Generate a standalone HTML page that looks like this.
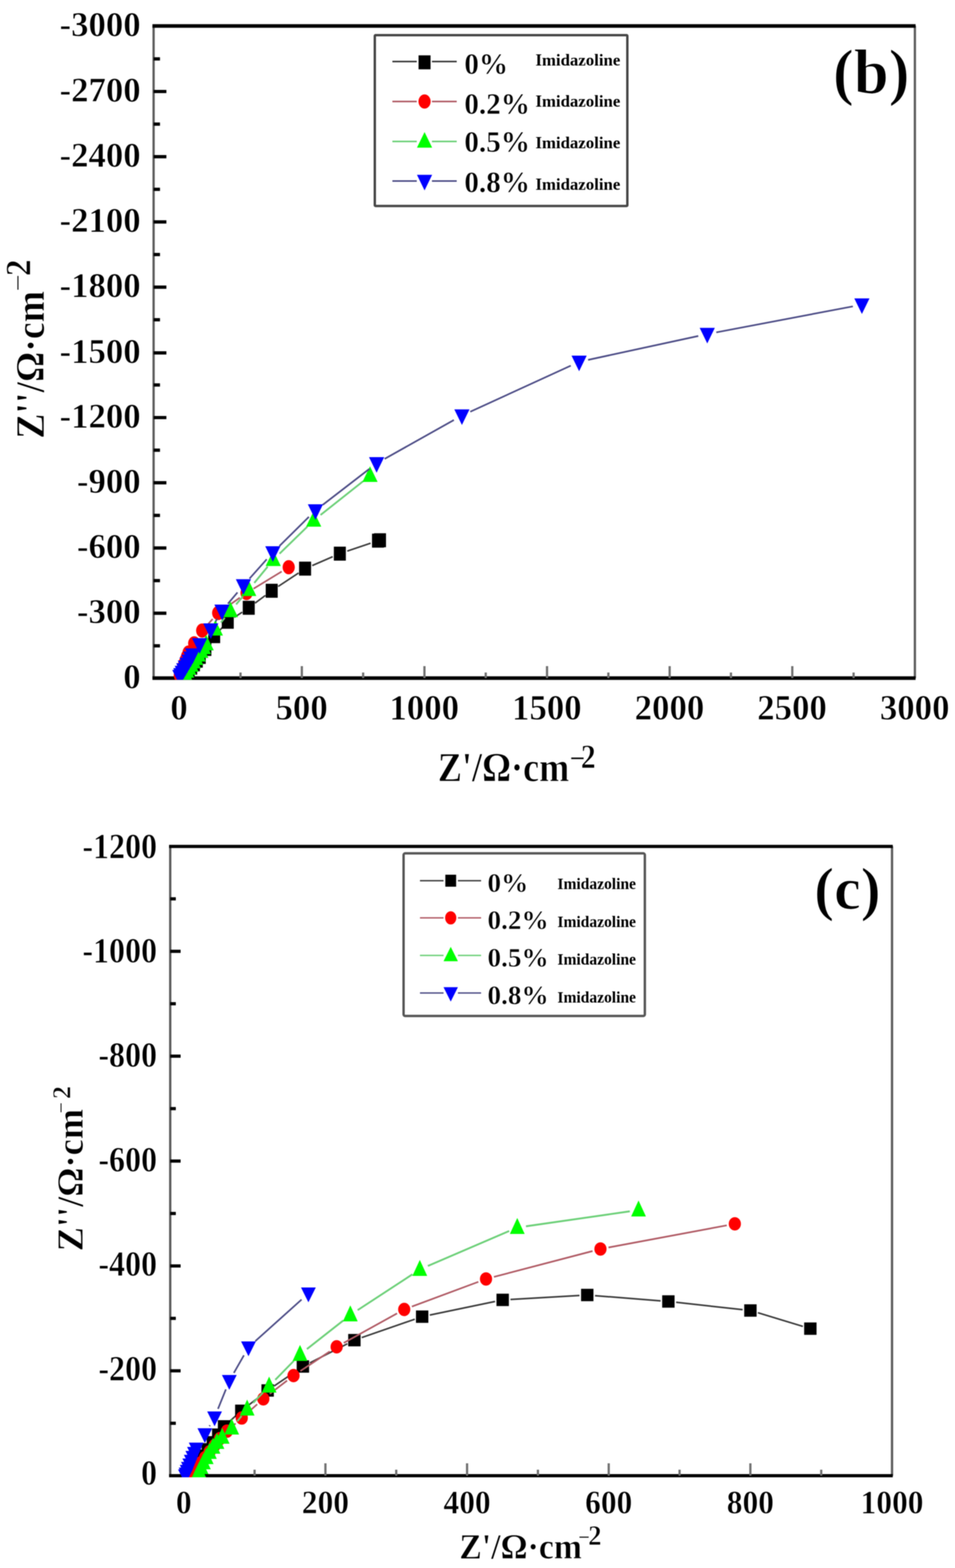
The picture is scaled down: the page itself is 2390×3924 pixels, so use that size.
<!DOCTYPE html>
<html lang="en">
<head>
<meta charset="utf-8">
<title>Nyquist plots (b) and (c)</title>
<style>
html, body { margin: 0; padding: 0; background: #ffffff; }
body { width: 2390px; height: 3924px; overflow: hidden; }
svg { display: block; font-family: "Liberation Serif", "DejaVu Serif", serif; filter: blur(1.3px); }
svg text { font-family: "Liberation Serif", "DejaVu Serif", serif; }
</style>
</head>
<body>
<svg xmlns="http://www.w3.org/2000/svg" width="2390" height="3924" viewBox="0 0 2390 3924">
<defs>
<clipPath id="clipb"><rect x="384.4" y="65.0" width="1905.1999999999998" height="1636.0"/></clipPath>
<clipPath id="clipc"><rect x="426.0" y="2118.2" width="1806.4" height="1578.8000000000002"/></clipPath>
</defs>
<rect x="0" y="0" width="2390" height="3924" fill="#ffffff"/>
<line x1="384.4" y1="65.0" x2="384.4" y2="1697.0" stroke="#5c5c5c" stroke-width="5.7" stroke-linecap="butt"/>
<line x1="2289.6" y1="65.0" x2="2289.6" y2="1697.0" stroke="#5c5c5c" stroke-width="5.7" stroke-linecap="butt"/>
<line x1="381.5" y1="65.0" x2="2291.4" y2="65.0" stroke="#000" stroke-width="8.8" stroke-linecap="butt"/>
<line x1="381.5" y1="1697.0" x2="2291.4" y2="1697.0" stroke="#000" stroke-width="9.2" stroke-linecap="butt"/>
<line x1="384.4" y1="1616.2" x2="400.4" y2="1616.2" stroke="#000" stroke-width="8.2" stroke-linecap="butt"/>
<line x1="384.4" y1="1534.6" x2="416.4" y2="1534.6" stroke="#000" stroke-width="8.2" stroke-linecap="butt"/>
<line x1="384.4" y1="1453.0" x2="400.4" y2="1453.0" stroke="#000" stroke-width="8.2" stroke-linecap="butt"/>
<line x1="384.4" y1="1371.4" x2="416.4" y2="1371.4" stroke="#000" stroke-width="8.2" stroke-linecap="butt"/>
<line x1="384.4" y1="1289.8" x2="400.4" y2="1289.8" stroke="#000" stroke-width="8.2" stroke-linecap="butt"/>
<line x1="384.4" y1="1208.2" x2="416.4" y2="1208.2" stroke="#000" stroke-width="8.2" stroke-linecap="butt"/>
<line x1="384.4" y1="1126.6" x2="400.4" y2="1126.6" stroke="#000" stroke-width="8.2" stroke-linecap="butt"/>
<line x1="384.4" y1="1045.0" x2="416.4" y2="1045.0" stroke="#000" stroke-width="8.2" stroke-linecap="butt"/>
<line x1="384.4" y1="963.4" x2="400.4" y2="963.4" stroke="#000" stroke-width="8.2" stroke-linecap="butt"/>
<line x1="384.4" y1="883.2" x2="416.4" y2="883.2" stroke="#000" stroke-width="8.2" stroke-linecap="butt"/>
<line x1="384.4" y1="800.2" x2="400.4" y2="800.2" stroke="#000" stroke-width="8.2" stroke-linecap="butt"/>
<line x1="384.4" y1="718.6" x2="416.4" y2="718.6" stroke="#000" stroke-width="8.2" stroke-linecap="butt"/>
<line x1="384.4" y1="637.0" x2="400.4" y2="637.0" stroke="#000" stroke-width="8.2" stroke-linecap="butt"/>
<line x1="384.4" y1="555.4" x2="416.4" y2="555.4" stroke="#000" stroke-width="8.2" stroke-linecap="butt"/>
<line x1="384.4" y1="473.8" x2="400.4" y2="473.8" stroke="#000" stroke-width="8.2" stroke-linecap="butt"/>
<line x1="384.4" y1="392.2" x2="416.4" y2="392.2" stroke="#000" stroke-width="8.2" stroke-linecap="butt"/>
<line x1="384.4" y1="310.6" x2="400.4" y2="310.6" stroke="#000" stroke-width="8.2" stroke-linecap="butt"/>
<line x1="384.4" y1="229.0" x2="416.4" y2="229.0" stroke="#000" stroke-width="8.2" stroke-linecap="butt"/>
<line x1="384.4" y1="147.4" x2="400.4" y2="147.4" stroke="#000" stroke-width="8.2" stroke-linecap="butt"/>
<line x1="448.5" y1="1697.0" x2="448.5" y2="1667.0" stroke="#707070" stroke-width="5.6" stroke-linecap="butt"/>
<line x1="601.9" y1="1697.0" x2="601.9" y2="1683.0" stroke="#707070" stroke-width="5.6" stroke-linecap="butt"/>
<line x1="755.4" y1="1697.0" x2="755.4" y2="1667.0" stroke="#707070" stroke-width="5.6" stroke-linecap="butt"/>
<line x1="908.8" y1="1697.0" x2="908.8" y2="1683.0" stroke="#707070" stroke-width="5.6" stroke-linecap="butt"/>
<line x1="1062.2" y1="1697.0" x2="1062.2" y2="1667.0" stroke="#707070" stroke-width="5.6" stroke-linecap="butt"/>
<line x1="1215.6" y1="1697.0" x2="1215.6" y2="1683.0" stroke="#707070" stroke-width="5.6" stroke-linecap="butt"/>
<line x1="1369.0" y1="1697.0" x2="1369.0" y2="1667.0" stroke="#707070" stroke-width="5.6" stroke-linecap="butt"/>
<line x1="1522.5" y1="1697.0" x2="1522.5" y2="1683.0" stroke="#707070" stroke-width="5.6" stroke-linecap="butt"/>
<line x1="1675.9" y1="1697.0" x2="1675.9" y2="1667.0" stroke="#707070" stroke-width="5.6" stroke-linecap="butt"/>
<line x1="1829.3" y1="1697.0" x2="1829.3" y2="1683.0" stroke="#707070" stroke-width="5.6" stroke-linecap="butt"/>
<line x1="1982.8" y1="1697.0" x2="1982.8" y2="1667.0" stroke="#707070" stroke-width="5.6" stroke-linecap="butt"/>
<line x1="2136.2" y1="1697.0" x2="2136.2" y2="1683.0" stroke="#707070" stroke-width="5.6" stroke-linecap="butt"/>
<text transform="translate(352.0 1721.5)" font-size="87" font-weight="bold" text-anchor="end" fill="#000"  stroke="#fff" stroke-width="1.22" stroke-linejoin="round">0</text>
<text transform="translate(352.0 1559.1)" font-size="87" font-weight="bold" text-anchor="end" fill="#000"  stroke="#fff" stroke-width="1.22" stroke-linejoin="round">-300</text>
<text transform="translate(352.0 1395.9)" font-size="87" font-weight="bold" text-anchor="end" fill="#000"  stroke="#fff" stroke-width="1.22" stroke-linejoin="round">-600</text>
<text transform="translate(352.0 1232.7)" font-size="87" font-weight="bold" text-anchor="end" fill="#000"  stroke="#fff" stroke-width="1.22" stroke-linejoin="round">-900</text>
<text transform="translate(352.0 1069.5)" font-size="87" font-weight="bold" text-anchor="end" fill="#000"  stroke="#fff" stroke-width="1.22" stroke-linejoin="round">-1200</text>
<text transform="translate(352.0 907.7)" font-size="87" font-weight="bold" text-anchor="end" fill="#000"  stroke="#fff" stroke-width="1.22" stroke-linejoin="round">-1500</text>
<text transform="translate(352.0 743.1)" font-size="87" font-weight="bold" text-anchor="end" fill="#000"  stroke="#fff" stroke-width="1.22" stroke-linejoin="round">-1800</text>
<text transform="translate(352.0 579.9)" font-size="87" font-weight="bold" text-anchor="end" fill="#000"  stroke="#fff" stroke-width="1.22" stroke-linejoin="round">-2100</text>
<text transform="translate(352.0 416.7)" font-size="87" font-weight="bold" text-anchor="end" fill="#000"  stroke="#fff" stroke-width="1.22" stroke-linejoin="round">-2400</text>
<text transform="translate(352.0 253.5)" font-size="87" font-weight="bold" text-anchor="end" fill="#000"  stroke="#fff" stroke-width="1.22" stroke-linejoin="round">-2700</text>
<text transform="translate(352.0 89.5)" font-size="87" font-weight="bold" text-anchor="end" fill="#000"  stroke="#fff" stroke-width="1.22" stroke-linejoin="round">-3000</text>
<text transform="translate(448.0 1800.3) scale(0.9850 1.0000)" font-size="88.5" font-weight="bold" text-anchor="middle" fill="#000"  stroke="#fff" stroke-width="1.24" stroke-linejoin="round">0</text>
<text transform="translate(754.9 1800.3) scale(0.9850 1.0000)" font-size="88.5" font-weight="bold" text-anchor="middle" fill="#000"  stroke="#fff" stroke-width="1.24" stroke-linejoin="round">500</text>
<text transform="translate(1061.7 1800.3) scale(0.9850 1.0000)" font-size="88.5" font-weight="bold" text-anchor="middle" fill="#000"  stroke="#fff" stroke-width="1.24" stroke-linejoin="round">1000</text>
<text transform="translate(1368.5 1800.3) scale(0.9850 1.0000)" font-size="88.5" font-weight="bold" text-anchor="middle" fill="#000"  stroke="#fff" stroke-width="1.24" stroke-linejoin="round">1500</text>
<text transform="translate(1675.4 1800.3) scale(0.9850 1.0000)" font-size="88.5" font-weight="bold" text-anchor="middle" fill="#000"  stroke="#fff" stroke-width="1.24" stroke-linejoin="round">2000</text>
<text transform="translate(1982.2 1800.3) scale(0.9850 1.0000)" font-size="88.5" font-weight="bold" text-anchor="middle" fill="#000"  stroke="#fff" stroke-width="1.24" stroke-linejoin="round">2500</text>
<text transform="translate(2289.1 1800.3) scale(0.9850 1.0000)" font-size="88.5" font-weight="bold" text-anchor="middle" fill="#000"  stroke="#fff" stroke-width="1.24" stroke-linejoin="round">3000</text>
<text transform="translate(1095.7 1954.5) scale(0.8790 1.0000)" font-size="103" font-weight="bold" text-anchor="start" fill="#000"  stroke="#fff" stroke-width="1.44" stroke-linejoin="round">Z'/Ω·cm<tspan font-size="79.0" font-weight="bold" dx="0.8" dy="-30.8">−</tspan><tspan font-size="85.0" dx="-12.9" dy="-1.7">2</tspan></text>
<text transform="translate(110.0 1098.0) rotate(-90) scale(0.9370 1.0000)" font-size="101" font-weight="bold" text-anchor="start" fill="#000"  stroke="#fff" stroke-width="1.41" stroke-linejoin="round">Z''/Ω·cm<tspan font-size="82.0" font-weight="normal" dx="-1.8" dy="-38.2">−</tspan><tspan font-size="89.0" dx="-5.0" dy="3.2">2</tspan></text>
<text transform="translate(2084.5 233.0) scale(0.9800 1.0000)" font-size="160" font-weight="bold" text-anchor="start" fill="#000"  stroke="#fff" stroke-width="2.24" stroke-linejoin="round">(b)</text>
<rect x="938.0" y="88.0" width="632.0" height="427.4" rx="2" fill="none" stroke="#464646" stroke-width="6"/>
<line x1="982.0" y1="154.0" x2="1043.0" y2="154.0" stroke="#3a3a3a" stroke-width="3.8" stroke-linecap="butt"/>
<line x1="1081.0" y1="154.0" x2="1143.0" y2="154.0" stroke="#3a3a3a" stroke-width="3.8" stroke-linecap="butt"/>
<rect x="1047.5" y="138.5" width="30" height="35" fill="#000000"/>
<text transform="translate(1162.0 185.0)" font-size="73" font-weight="bold" text-anchor="start" fill="#000"  stroke="#fff" stroke-width="1.02" stroke-linejoin="round">0%</text>
<text transform="translate(1340.0 164.0)" font-size="42" font-weight="bold" text-anchor="start" fill="#000" >Imidazoline</text>
<line x1="982.0" y1="254.0" x2="1043.0" y2="254.0" stroke="#b05a64" stroke-width="3.8" stroke-linecap="butt"/>
<line x1="1081.0" y1="254.0" x2="1143.0" y2="254.0" stroke="#b05a64" stroke-width="3.8" stroke-linecap="butt"/>
<ellipse cx="1062.5" cy="254.0" rx="15.25" ry="17.75" fill="#ff0000"/>
<text transform="translate(1162.0 285.0)" font-size="73" font-weight="bold" text-anchor="start" fill="#000"  stroke="#fff" stroke-width="1.02" stroke-linejoin="round">0.2%</text>
<text transform="translate(1340.0 266.5)" font-size="42" font-weight="bold" text-anchor="start" fill="#000" >Imidazoline</text>
<line x1="982.0" y1="354.0" x2="1043.0" y2="354.0" stroke="#6cd078" stroke-width="3.8" stroke-linecap="butt"/>
<line x1="1081.0" y1="354.0" x2="1143.0" y2="354.0" stroke="#6cd078" stroke-width="3.8" stroke-linecap="butt"/>
<polygon points="1062.5,330.6 1081.5,369.6 1043.5,369.6" fill="#00ff00"/>
<text transform="translate(1162.0 380.0)" font-size="73" font-weight="bold" text-anchor="start" fill="#000"  stroke="#fff" stroke-width="1.02" stroke-linejoin="round">0.5%</text>
<text transform="translate(1340.0 370.5)" font-size="42" font-weight="bold" text-anchor="start" fill="#000" >Imidazoline</text>
<line x1="982.0" y1="453.0" x2="1043.0" y2="453.0" stroke="#4c4c86" stroke-width="3.8" stroke-linecap="butt"/>
<line x1="1081.0" y1="453.0" x2="1143.0" y2="453.0" stroke="#4c4c86" stroke-width="3.8" stroke-linecap="butt"/>
<polygon points="1062.5,476.4 1081.5,437.4 1043.5,437.4" fill="#0000ff"/>
<text transform="translate(1162.0 481.0)" font-size="73" font-weight="bold" text-anchor="start" fill="#000"  stroke="#fff" stroke-width="1.02" stroke-linejoin="round">0.8%</text>
<text transform="translate(1340.0 474.5)" font-size="42" font-weight="bold" text-anchor="start" fill="#000" >Imidazoline</text>
<g clip-path="url(#clipb)">
<line x1="927.5" y1="1359.3" x2="869.0" y2="1379.2" stroke="#3a3a3a" stroke-width="4.0" stroke-linecap="butt"/>
<line x1="832.6" y1="1393.2" x2="781.4" y2="1415.3" stroke="#3a3a3a" stroke-width="4.0" stroke-linecap="butt"/>
<line x1="747.3" y1="1433.8" x2="696.2" y2="1467.6" stroke="#3a3a3a" stroke-width="4.0" stroke-linecap="butt"/>
<line x1="664.3" y1="1490.0" x2="638.2" y2="1509.4" stroke="#3a3a3a" stroke-width="4.0" stroke-linecap="butt"/>
<line x1="606.3" y1="1531.8" x2="586.2" y2="1545.2" stroke="#3a3a3a" stroke-width="4.0" stroke-linecap="butt"/>
<line x1="556.6" y1="1570.2" x2="549.4" y2="1577.8" stroke="#3a3a3a" stroke-width="4.0" stroke-linecap="butt"/>
<rect x="936.0" y="1334.5" width="30" height="35" fill="#000000"/>
<rect x="931.0" y="1335.5" width="30" height="35" fill="#000000"/>
<rect x="835.5" y="1368.0" width="30" height="35" fill="#000000"/>
<rect x="748.5" y="1405.5" width="30" height="35" fill="#000000"/>
<rect x="665.0" y="1460.9" width="30" height="35" fill="#000000"/>
<rect x="607.5" y="1503.5" width="30" height="35" fill="#000000"/>
<rect x="555.0" y="1538.5" width="30" height="35" fill="#000000"/>
<rect x="521.0" y="1574.5" width="30" height="35" fill="#000000"/>
<rect x="499.0" y="1606.5" width="30" height="35" fill="#000000"/>
<rect x="485.0" y="1626.5" width="30" height="35" fill="#000000"/>
<rect x="477.5" y="1635.9" width="30" height="35" fill="#000000"/>
<rect x="470.4" y="1645.0" width="30" height="35" fill="#000000"/>
<rect x="463.5" y="1653.6" width="30" height="35" fill="#000000"/>
<rect x="457.2" y="1661.7" width="30" height="35" fill="#000000"/>
<rect x="451.4" y="1668.9" width="30" height="35" fill="#000000"/>
<rect x="447.0" y="1674.5" width="30" height="35" fill="#000000"/>
<line x1="705.0" y1="1430.2" x2="634.5" y2="1473.3" stroke="#b05a64" stroke-width="4.2" stroke-linecap="butt"/>
<line x1="600.2" y1="1495.8" x2="562.8" y2="1522.2" stroke="#b05a64" stroke-width="4.2" stroke-linecap="butt"/>
<line x1="532.2" y1="1549.2" x2="519.8" y2="1562.8" stroke="#b05a64" stroke-width="4.2" stroke-linecap="butt"/>
<ellipse cx="722.5" cy="1419.5" rx="15.25" ry="17.75" fill="#ff0000"/>
<ellipse cx="617.0" cy="1484.0" rx="15.25" ry="17.75" fill="#ff0000"/>
<ellipse cx="546.0" cy="1534.0" rx="15.25" ry="17.75" fill="#ff0000"/>
<ellipse cx="506.0" cy="1578.0" rx="15.25" ry="17.75" fill="#ff0000"/>
<ellipse cx="486.0" cy="1610.0" rx="15.25" ry="17.75" fill="#ff0000"/>
<ellipse cx="472.0" cy="1633.0" rx="15.25" ry="17.75" fill="#ff0000"/>
<ellipse cx="468.3" cy="1642.6" rx="15.25" ry="17.75" fill="#ff0000"/>
<ellipse cx="464.7" cy="1651.9" rx="15.25" ry="17.75" fill="#ff0000"/>
<ellipse cx="461.2" cy="1660.9" rx="15.25" ry="17.75" fill="#ff0000"/>
<ellipse cx="458.0" cy="1669.4" rx="15.25" ry="17.75" fill="#ff0000"/>
<ellipse cx="454.9" cy="1677.3" rx="15.25" ry="17.75" fill="#ff0000"/>
<ellipse cx="452.1" cy="1684.5" rx="15.25" ry="17.75" fill="#ff0000"/>
<ellipse cx="450.0" cy="1690.0" rx="15.25" ry="17.75" fill="#ff0000"/>
<line x1="908.8" y1="1204.2" x2="802.2" y2="1288.8" stroke="#6cd078" stroke-width="4.6" stroke-linecap="butt"/>
<line x1="769.2" y1="1317.8" x2="699.6" y2="1385.7" stroke="#6cd078" stroke-width="4.6" stroke-linecap="butt"/>
<line x1="669.9" y1="1418.0" x2="636.4" y2="1458.8" stroke="#6cd078" stroke-width="4.6" stroke-linecap="butt"/>
<line x1="608.1" y1="1492.4" x2="590.9" y2="1512.4" stroke="#6cd078" stroke-width="4.6" stroke-linecap="butt"/>
<line x1="562.6" y1="1546.1" x2="552.9" y2="1557.9" stroke="#6cd078" stroke-width="4.6" stroke-linecap="butt"/>
<polygon points="926.0,1167.1 945.0,1206.1 907.0,1206.1" fill="#00ff00"/>
<polygon points="785.0,1279.1 804.0,1318.1 766.0,1318.1" fill="#00ff00"/>
<polygon points="683.8,1377.6 702.8,1416.6 664.8,1416.6" fill="#00ff00"/>
<polygon points="622.5,1452.4 641.5,1491.4 603.5,1491.4" fill="#00ff00"/>
<polygon points="576.5,1505.6 595.5,1544.6 557.5,1544.6" fill="#00ff00"/>
<polygon points="539.0,1551.6 558.0,1590.6 520.0,1590.6" fill="#00ff00"/>
<polygon points="516.0,1588.6 535.0,1627.6 497.0,1627.6" fill="#00ff00"/>
<polygon points="509.2,1598.1 528.2,1637.1 490.2,1637.1" fill="#00ff00"/>
<polygon points="502.6,1607.4 521.6,1646.4 483.6,1646.4" fill="#00ff00"/>
<polygon points="496.2,1616.5 515.2,1655.5 477.2,1655.5" fill="#00ff00"/>
<polygon points="489.9,1625.3 508.9,1664.3 470.9,1664.3" fill="#00ff00"/>
<polygon points="483.8,1633.8 502.8,1672.8 464.8,1672.8" fill="#00ff00"/>
<polygon points="478.0,1642.0 497.0,1681.0 459.0,1681.0" fill="#00ff00"/>
<polygon points="472.4,1649.7 491.4,1688.7 453.4,1688.7" fill="#00ff00"/>
<polygon points="467.3,1657.0 486.3,1696.0 448.3,1696.0" fill="#00ff00"/>
<polygon points="462.6,1663.6 481.6,1702.6 443.6,1702.6" fill="#00ff00"/>
<polygon points="459.0,1668.6 478.0,1707.6 440.0,1707.6" fill="#00ff00"/>
<line x1="2134.4" y1="766.7" x2="1792.6" y2="831.7" stroke="#4c4c86" stroke-width="4.2" stroke-linecap="butt"/>
<line x1="1747.5" y1="840.9" x2="1471.8" y2="900.6" stroke="#4c4c86" stroke-width="4.2" stroke-linecap="butt"/>
<line x1="1428.4" y1="915.1" x2="1176.9" y2="1030.4" stroke="#4c4c86" stroke-width="4.2" stroke-linecap="butt"/>
<line x1="1135.9" y1="1051.2" x2="962.6" y2="1148.3" stroke="#4c4c86" stroke-width="4.2" stroke-linecap="butt"/>
<line x1="924.3" y1="1173.5" x2="807.6" y2="1263.5" stroke="#4c4c86" stroke-width="4.2" stroke-linecap="butt"/>
<line x1="773.0" y1="1293.6" x2="699.2" y2="1366.4" stroke="#4c4c86" stroke-width="4.2" stroke-linecap="butt"/>
<line x1="667.5" y1="1399.7" x2="624.5" y2="1447.8" stroke="#4c4c86" stroke-width="4.2" stroke-linecap="butt"/>
<line x1="594.3" y1="1482.6" x2="570.4" y2="1510.9" stroke="#4c4c86" stroke-width="4.2" stroke-linecap="butt"/>
<line x1="543.7" y1="1548.3" x2="539.3" y2="1555.7" stroke="#4c4c86" stroke-width="4.2" stroke-linecap="butt"/>
<polygon points="2157.0,785.8 2176.0,746.8 2138.0,746.8" fill="#0000ff"/>
<polygon points="1770.0,859.4 1789.0,820.4 1751.0,820.4" fill="#0000ff"/>
<polygon points="1449.3,928.9 1468.3,889.9 1430.3,889.9" fill="#0000ff"/>
<polygon points="1156.0,1063.4 1175.0,1024.4 1137.0,1024.4" fill="#0000ff"/>
<polygon points="942.5,1182.9 961.5,1143.9 923.5,1143.9" fill="#0000ff"/>
<polygon points="789.4,1300.9 808.4,1261.9 770.4,1261.9" fill="#0000ff"/>
<polygon points="682.8,1405.9 701.8,1366.9 663.8,1366.9" fill="#0000ff"/>
<polygon points="609.2,1488.4 628.2,1449.4 590.2,1449.4" fill="#0000ff"/>
<polygon points="555.5,1551.9 574.5,1512.9 536.5,1512.9" fill="#0000ff"/>
<polygon points="527.5,1598.9 546.5,1559.9 508.5,1559.9" fill="#0000ff"/>
<polygon points="499.5,1635.9 518.5,1596.9 480.5,1596.9" fill="#0000ff"/>
<polygon points="482.0,1661.4 501.0,1622.4 463.0,1622.4" fill="#0000ff"/>
<polygon points="477.3,1669.4 496.3,1630.4 458.3,1630.4" fill="#0000ff"/>
<polygon points="472.7,1677.2 491.7,1638.2 453.7,1638.2" fill="#0000ff"/>
<polygon points="468.2,1684.7 487.2,1645.7 449.2,1645.7" fill="#0000ff"/>
<polygon points="463.9,1691.9 482.9,1652.9 444.9,1652.9" fill="#0000ff"/>
<polygon points="459.9,1698.8 478.9,1659.8 440.9,1659.8" fill="#0000ff"/>
<polygon points="456.1,1705.2 475.1,1666.2 437.1,1666.2" fill="#0000ff"/>
<polygon points="452.6,1710.9 471.6,1671.9 433.6,1671.9" fill="#0000ff"/>
<polygon points="450.0,1715.4 469.0,1676.4 431.0,1676.4" fill="#0000ff"/>
</g>
<line x1="426.0" y1="2118.2" x2="426.0" y2="3693.0" stroke="#5c5c5c" stroke-width="5.8" stroke-linecap="butt"/>
<line x1="2232.4" y1="2118.2" x2="2232.4" y2="3693.0" stroke="#5c5c5c" stroke-width="5.8" stroke-linecap="butt"/>
<line x1="423.1" y1="2118.2" x2="2234.3" y2="2118.2" stroke="#000" stroke-width="8.0" stroke-linecap="butt"/>
<line x1="423.1" y1="3693.0" x2="2234.3" y2="3693.0" stroke="#000" stroke-width="8.0" stroke-linecap="butt"/>
<line x1="426.0" y1="3561.8" x2="440.0" y2="3561.8" stroke="#000" stroke-width="8" stroke-linecap="butt"/>
<line x1="426.0" y1="3430.5" x2="452.0" y2="3430.5" stroke="#000" stroke-width="8" stroke-linecap="butt"/>
<line x1="426.0" y1="3299.3" x2="440.0" y2="3299.3" stroke="#000" stroke-width="8" stroke-linecap="butt"/>
<line x1="426.0" y1="3168.1" x2="452.0" y2="3168.1" stroke="#000" stroke-width="8" stroke-linecap="butt"/>
<line x1="426.0" y1="3036.8" x2="440.0" y2="3036.8" stroke="#000" stroke-width="8" stroke-linecap="butt"/>
<line x1="426.0" y1="2905.6" x2="452.0" y2="2905.6" stroke="#000" stroke-width="8" stroke-linecap="butt"/>
<line x1="426.0" y1="2774.4" x2="440.0" y2="2774.4" stroke="#000" stroke-width="8" stroke-linecap="butt"/>
<line x1="426.0" y1="2643.1" x2="452.0" y2="2643.1" stroke="#000" stroke-width="8" stroke-linecap="butt"/>
<line x1="426.0" y1="2511.9" x2="440.0" y2="2511.9" stroke="#000" stroke-width="8" stroke-linecap="butt"/>
<line x1="426.0" y1="2380.7" x2="452.0" y2="2380.7" stroke="#000" stroke-width="8" stroke-linecap="butt"/>
<line x1="426.0" y1="2249.4" x2="440.0" y2="2249.4" stroke="#000" stroke-width="8" stroke-linecap="butt"/>
<line x1="459.9" y1="3693.0" x2="459.9" y2="3662.0" stroke="#707070" stroke-width="5.6" stroke-linecap="butt"/>
<line x1="637.1" y1="3693.0" x2="637.1" y2="3678.0" stroke="#707070" stroke-width="5.6" stroke-linecap="butt"/>
<line x1="814.4" y1="3693.0" x2="814.4" y2="3662.0" stroke="#707070" stroke-width="5.6" stroke-linecap="butt"/>
<line x1="991.6" y1="3693.0" x2="991.6" y2="3678.0" stroke="#707070" stroke-width="5.6" stroke-linecap="butt"/>
<line x1="1168.9" y1="3693.0" x2="1168.9" y2="3662.0" stroke="#707070" stroke-width="5.6" stroke-linecap="butt"/>
<line x1="1346.2" y1="3693.0" x2="1346.2" y2="3678.0" stroke="#707070" stroke-width="5.6" stroke-linecap="butt"/>
<line x1="1523.4" y1="3693.0" x2="1523.4" y2="3662.0" stroke="#707070" stroke-width="5.6" stroke-linecap="butt"/>
<line x1="1700.7" y1="3693.0" x2="1700.7" y2="3678.0" stroke="#707070" stroke-width="5.6" stroke-linecap="butt"/>
<line x1="1877.9" y1="3693.0" x2="1877.9" y2="3662.0" stroke="#707070" stroke-width="5.6" stroke-linecap="butt"/>
<line x1="2055.2" y1="3693.0" x2="2055.2" y2="3678.0" stroke="#707070" stroke-width="5.6" stroke-linecap="butt"/>
<text transform="translate(393.0 3715.2) scale(0.9000 1.0000)" font-size="89" font-weight="bold" text-anchor="end" fill="#000"  stroke="#fff" stroke-width="1.25" stroke-linejoin="round">0</text>
<text transform="translate(393.0 3453.8) scale(0.9000 1.0000)" font-size="89" font-weight="bold" text-anchor="end" fill="#000"  stroke="#fff" stroke-width="1.25" stroke-linejoin="round">-200</text>
<text transform="translate(393.0 3192.3) scale(0.9000 1.0000)" font-size="89" font-weight="bold" text-anchor="end" fill="#000"  stroke="#fff" stroke-width="1.25" stroke-linejoin="round">-400</text>
<text transform="translate(393.0 2930.8) scale(0.9000 1.0000)" font-size="89" font-weight="bold" text-anchor="end" fill="#000"  stroke="#fff" stroke-width="1.25" stroke-linejoin="round">-600</text>
<text transform="translate(393.0 2669.4) scale(0.9000 1.0000)" font-size="89" font-weight="bold" text-anchor="end" fill="#000"  stroke="#fff" stroke-width="1.25" stroke-linejoin="round">-800</text>
<text transform="translate(393.0 2407.9) scale(0.9000 1.0000)" font-size="89" font-weight="bold" text-anchor="end" fill="#000"  stroke="#fff" stroke-width="1.25" stroke-linejoin="round">-1000</text>
<text transform="translate(393.0 2146.5) scale(0.9000 1.0000)" font-size="89" font-weight="bold" text-anchor="end" fill="#000"  stroke="#fff" stroke-width="1.25" stroke-linejoin="round">-1200</text>
<text transform="translate(459.9 3787.0) scale(0.9500 1.0000)" font-size="83" font-weight="bold" text-anchor="middle" fill="#000"  stroke="#fff" stroke-width="1.16" stroke-linejoin="round">0</text>
<text transform="translate(814.4 3787.0) scale(0.9500 1.0000)" font-size="83" font-weight="bold" text-anchor="middle" fill="#000"  stroke="#fff" stroke-width="1.16" stroke-linejoin="round">200</text>
<text transform="translate(1168.9 3787.0) scale(0.9500 1.0000)" font-size="83" font-weight="bold" text-anchor="middle" fill="#000"  stroke="#fff" stroke-width="1.16" stroke-linejoin="round">400</text>
<text transform="translate(1523.4 3787.0) scale(0.9500 1.0000)" font-size="83" font-weight="bold" text-anchor="middle" fill="#000"  stroke="#fff" stroke-width="1.16" stroke-linejoin="round">600</text>
<text transform="translate(1877.9 3787.0) scale(0.9500 1.0000)" font-size="83" font-weight="bold" text-anchor="middle" fill="#000"  stroke="#fff" stroke-width="1.16" stroke-linejoin="round">800</text>
<text transform="translate(2232.4 3787.0) scale(0.9500 1.0000)" font-size="83" font-weight="bold" text-anchor="middle" fill="#000"  stroke="#fff" stroke-width="1.16" stroke-linejoin="round">1000</text>
<text transform="translate(1149.5 3899.5) scale(0.9540 1.0000)" font-size="88.5" font-weight="bold" text-anchor="start" fill="#000"  stroke="#fff" stroke-width="1.24" stroke-linejoin="round">Z'/Ω·cm<tspan font-size="55.0" font-weight="bold" dx="-10.0" dy="-34.5">−</tspan><tspan font-size="70.0" dx="-4.7" dy="1.0">2</tspan></text>
<text transform="translate(207.1 3131.6) rotate(-90) scale(0.9800 1.0000)" font-size="93" font-weight="bold" text-anchor="start" fill="#000"  stroke="#fff" stroke-width="1.30" stroke-linejoin="round">Z''/Ω·cm<tspan font-size="52.0" font-weight="bold" dx="-11.8" dy="-37.5">−</tspan><tspan font-size="66.0" dx="7.6" dy="5.9">2</tspan></text>
<text transform="translate(2037.5 2275.0)" font-size="150" font-weight="bold" text-anchor="start" fill="#000"  stroke="#fff" stroke-width="2.10" stroke-linejoin="round">(c)</text>
<rect x="1010.0" y="2135.6" width="603.8" height="407.0" rx="4" fill="none" stroke="#555555" stroke-width="6"/>
<line x1="1051.0" y1="2204.0" x2="1110.0" y2="2204.0" stroke="#3a3a3a" stroke-width="3.6" stroke-linecap="butt"/>
<line x1="1146.0" y1="2204.0" x2="1204.0" y2="2204.0" stroke="#3a3a3a" stroke-width="3.6" stroke-linecap="butt"/>
<rect x="1114.5" y="2189.0" width="27" height="30" fill="#000000"/>
<text transform="translate(1220.0 2232.0)" font-size="68" font-weight="bold" text-anchor="start" fill="#000"  stroke="#fff" stroke-width="0.95" stroke-linejoin="round">0%</text>
<text transform="translate(1395.0 2224.5) scale(0.9850 1.0000)" font-size="39.5" font-weight="bold" text-anchor="start" fill="#000" >Imidazoline</text>
<line x1="1051.0" y1="2297.0" x2="1110.0" y2="2297.0" stroke="#b05a64" stroke-width="3.6" stroke-linecap="butt"/>
<line x1="1146.0" y1="2297.0" x2="1204.0" y2="2297.0" stroke="#b05a64" stroke-width="3.6" stroke-linecap="butt"/>
<ellipse cx="1128.0" cy="2297.0" rx="14.0" ry="16.5" fill="#ff0000"/>
<text transform="translate(1220.0 2325.0)" font-size="68" font-weight="bold" text-anchor="start" fill="#000"  stroke="#fff" stroke-width="0.95" stroke-linejoin="round">0.2%</text>
<text transform="translate(1395.0 2319.5) scale(0.9850 1.0000)" font-size="39.5" font-weight="bold" text-anchor="start" fill="#000" >Imidazoline</text>
<line x1="1051.0" y1="2391.0" x2="1110.0" y2="2391.0" stroke="#6cd078" stroke-width="3.6" stroke-linecap="butt"/>
<line x1="1146.0" y1="2391.0" x2="1204.0" y2="2391.0" stroke="#6cd078" stroke-width="3.6" stroke-linecap="butt"/>
<polygon points="1128.0,2369.4 1146.0,2405.4 1110.0,2405.4" fill="#00ff00"/>
<text transform="translate(1220.0 2419.0)" font-size="68" font-weight="bold" text-anchor="start" fill="#000"  stroke="#fff" stroke-width="0.95" stroke-linejoin="round">0.5%</text>
<text transform="translate(1395.0 2414.0) scale(0.9850 1.0000)" font-size="39.5" font-weight="bold" text-anchor="start" fill="#000" >Imidazoline</text>
<line x1="1051.0" y1="2485.0" x2="1110.0" y2="2485.0" stroke="#4c4c86" stroke-width="3.6" stroke-linecap="butt"/>
<line x1="1146.0" y1="2485.0" x2="1204.0" y2="2485.0" stroke="#4c4c86" stroke-width="3.6" stroke-linecap="butt"/>
<polygon points="1128.0,2506.6 1146.0,2470.6 1110.0,2470.6" fill="#0000ff"/>
<text transform="translate(1220.0 2513.0)" font-size="68" font-weight="bold" text-anchor="start" fill="#000"  stroke="#fff" stroke-width="0.95" stroke-linejoin="round">0.8%</text>
<text transform="translate(1395.0 2509.0) scale(0.9850 1.0000)" font-size="39.5" font-weight="bold" text-anchor="start" fill="#000" >Imidazoline</text>
<g clip-path="url(#clipc)">
<line x1="2009.3" y1="3319.4" x2="1896.7" y2="3285.2" stroke="#3a3a3a" stroke-width="4.0" stroke-linecap="butt"/>
<line x1="1858.6" y1="3277.5" x2="1692.1" y2="3259.1" stroke="#3a3a3a" stroke-width="4.0" stroke-linecap="butt"/>
<line x1="1653.3" y1="3255.4" x2="1489.1" y2="3242.4" stroke="#3a3a3a" stroke-width="4.0" stroke-linecap="butt"/>
<line x1="1450.2" y1="3241.9" x2="1277.5" y2="3251.9" stroke="#3a3a3a" stroke-width="4.0" stroke-linecap="butt"/>
<line x1="1238.9" y1="3257.0" x2="1075.6" y2="3291.0" stroke="#3a3a3a" stroke-width="4.0" stroke-linecap="butt"/>
<line x1="1038.1" y1="3301.4" x2="905.3" y2="3347.4" stroke="#3a3a3a" stroke-width="4.0" stroke-linecap="butt"/>
<line x1="869.5" y1="3362.7" x2="775.4" y2="3410.8" stroke="#3a3a3a" stroke-width="4.0" stroke-linecap="butt"/>
<line x1="741.9" y1="3430.7" x2="685.9" y2="3468.7" stroke="#3a3a3a" stroke-width="4.0" stroke-linecap="butt"/>
<line x1="654.4" y1="3491.6" x2="619.3" y2="3518.7" stroke="#3a3a3a" stroke-width="4.0" stroke-linecap="butt"/>
<line x1="589.4" y1="3543.7" x2="575.2" y2="3556.5" stroke="#3a3a3a" stroke-width="4.0" stroke-linecap="butt"/>
<rect x="2012.5" y="3309.5" width="31" height="31" fill="#000000"/>
<rect x="1862.5" y="3264.1" width="31" height="31" fill="#000000"/>
<rect x="1657.2" y="3241.5" width="31" height="31" fill="#000000"/>
<rect x="1454.2" y="3225.3" width="31" height="31" fill="#000000"/>
<rect x="1242.5" y="3237.5" width="31" height="31" fill="#000000"/>
<rect x="1041.0" y="3279.5" width="31" height="31" fill="#000000"/>
<rect x="871.4" y="3338.3" width="31" height="31" fill="#000000"/>
<rect x="742.5" y="3404.2" width="31" height="31" fill="#000000"/>
<rect x="654.3" y="3464.2" width="31" height="31" fill="#000000"/>
<rect x="588.4" y="3515.1" width="31" height="31" fill="#000000"/>
<rect x="545.2" y="3554.1" width="31" height="31" fill="#000000"/>
<rect x="530.7" y="3574.8" width="31" height="31" fill="#000000"/>
<rect x="517.2" y="3594.0" width="31" height="31" fill="#000000"/>
<rect x="504.8" y="3611.6" width="31" height="31" fill="#000000"/>
<rect x="493.6" y="3627.5" width="31" height="31" fill="#000000"/>
<rect x="483.6" y="3641.6" width="31" height="31" fill="#000000"/>
<rect x="475.1" y="3653.7" width="31" height="31" fill="#000000"/>
<rect x="468.1" y="3663.6" width="31" height="31" fill="#000000"/>
<rect x="463.0" y="3670.9" width="31" height="31" fill="#000000"/>
<rect x="460.5" y="3674.5" width="31" height="31" fill="#000000"/>
<line x1="1818.9" y1="3066.5" x2="1522.8" y2="3121.9" stroke="#b05a64" stroke-width="4.2" stroke-linecap="butt"/>
<line x1="1482.9" y1="3130.9" x2="1236.1" y2="3195.5" stroke="#b05a64" stroke-width="4.2" stroke-linecap="butt"/>
<line x1="1197.1" y1="3207.9" x2="1030.8" y2="3269.8" stroke="#b05a64" stroke-width="4.2" stroke-linecap="butt"/>
<line x1="993.7" y1="3286.9" x2="860.4" y2="3360.6" stroke="#b05a64" stroke-width="4.2" stroke-linecap="butt"/>
<line x1="825.4" y1="3381.9" x2="751.7" y2="3431.1" stroke="#b05a64" stroke-width="4.2" stroke-linecap="butt"/>
<line x1="718.4" y1="3455.0" x2="675.2" y2="3488.2" stroke="#b05a64" stroke-width="4.2" stroke-linecap="butt"/>
<line x1="643.7" y1="3514.3" x2="620.3" y2="3535.0" stroke="#b05a64" stroke-width="4.2" stroke-linecap="butt"/>
<line x1="589.7" y1="3562.2" x2="583.2" y2="3568.0" stroke="#b05a64" stroke-width="4.2" stroke-linecap="butt"/>
<ellipse cx="1839.0" cy="3062.7" rx="15.25" ry="16.75" fill="#ff0000"/>
<ellipse cx="1502.7" cy="3125.7" rx="15.25" ry="16.75" fill="#ff0000"/>
<ellipse cx="1216.3" cy="3200.7" rx="15.25" ry="16.75" fill="#ff0000"/>
<ellipse cx="1011.6" cy="3277.0" rx="15.25" ry="16.75" fill="#ff0000"/>
<ellipse cx="842.5" cy="3370.5" rx="15.25" ry="16.75" fill="#ff0000"/>
<ellipse cx="734.6" cy="3442.5" rx="15.25" ry="16.75" fill="#ff0000"/>
<ellipse cx="659.0" cy="3500.7" rx="15.25" ry="16.75" fill="#ff0000"/>
<ellipse cx="605.0" cy="3548.6" rx="15.25" ry="16.75" fill="#ff0000"/>
<ellipse cx="567.9" cy="3581.6" rx="15.25" ry="16.75" fill="#ff0000"/>
<ellipse cx="550.4" cy="3600.2" rx="15.25" ry="16.75" fill="#ff0000"/>
<ellipse cx="536.9" cy="3617.5" rx="15.25" ry="16.75" fill="#ff0000"/>
<ellipse cx="524.4" cy="3633.3" rx="15.25" ry="16.75" fill="#ff0000"/>
<ellipse cx="513.2" cy="3647.7" rx="15.25" ry="16.75" fill="#ff0000"/>
<ellipse cx="503.2" cy="3660.4" rx="15.25" ry="16.75" fill="#ff0000"/>
<ellipse cx="494.7" cy="3671.3" rx="15.25" ry="16.75" fill="#ff0000"/>
<ellipse cx="487.7" cy="3680.2" rx="15.25" ry="16.75" fill="#ff0000"/>
<ellipse cx="482.5" cy="3686.8" rx="15.25" ry="16.75" fill="#ff0000"/>
<ellipse cx="480.0" cy="3690.0" rx="15.25" ry="16.75" fill="#ff0000"/>
<line x1="754.7" y1="3252.2" x2="638.9" y2="3356.3" stroke="#4c4c86" stroke-width="4.2" stroke-linecap="butt"/>
<line x1="610.4" y1="3391.7" x2="585.3" y2="3435.7" stroke="#4c4c86" stroke-width="4.2" stroke-linecap="butt"/>
<line x1="565.3" y1="3477.0" x2="545.6" y2="3525.7" stroke="#4c4c86" stroke-width="4.2" stroke-linecap="butt"/>
<line x1="525.5" y1="3566.9" x2="524.2" y2="3569.1" stroke="#4c4c86" stroke-width="4.2" stroke-linecap="butt"/>
<polygon points="771.8,3259.0 790.3,3222.0 753.3,3222.0" fill="#0000ff"/>
<polygon points="621.8,3393.9 640.3,3356.9 603.3,3356.9" fill="#0000ff"/>
<polygon points="573.9,3477.9 592.4,3440.9 555.4,3440.9" fill="#0000ff"/>
<polygon points="537.0,3569.2 555.5,3532.2 518.5,3532.2" fill="#0000ff"/>
<polygon points="512.7,3611.2 531.2,3574.2 494.2,3574.2" fill="#0000ff"/>
<polygon points="491.0,3647.2 509.5,3610.2 472.5,3610.2" fill="#0000ff"/>
<polygon points="486.7,3657.9 505.2,3620.9 468.2,3620.9" fill="#0000ff"/>
<polygon points="482.6,3668.1 501.1,3631.1 464.1,3631.1" fill="#0000ff"/>
<polygon points="478.7,3677.8 497.2,3640.8 460.2,3640.8" fill="#0000ff"/>
<polygon points="475.0,3687.0 493.5,3650.0 456.5,3650.0" fill="#0000ff"/>
<polygon points="471.5,3695.5 490.0,3658.5 453.0,3658.5" fill="#0000ff"/>
<polygon points="468.5,3703.1 487.0,3666.1 450.0,3666.1" fill="#0000ff"/>
<polygon points="465.8,3709.7 484.3,3672.7 447.3,3672.7" fill="#0000ff"/>
<polygon points="464.0,3714.2 482.5,3677.2 445.5,3677.2" fill="#0000ff"/>
<line x1="1576.2" y1="3031.4" x2="1316.3" y2="3068.9" stroke="#6cd078" stroke-width="4.6" stroke-linecap="butt"/>
<line x1="1274.3" y1="3080.7" x2="1070.8" y2="3168.2" stroke="#6cd078" stroke-width="4.6" stroke-linecap="butt"/>
<line x1="1032.2" y1="3189.0" x2="895.1" y2="3278.7" stroke="#6cd078" stroke-width="4.6" stroke-linecap="butt"/>
<line x1="859.4" y1="3304.4" x2="768.1" y2="3376.1" stroke="#6cd078" stroke-width="4.6" stroke-linecap="butt"/>
<line x1="735.4" y1="3405.5" x2="688.9" y2="3453.2" stroke="#6cd078" stroke-width="4.6" stroke-linecap="butt"/>
<line x1="658.3" y1="3484.9" x2="633.7" y2="3510.6" stroke="#6cd078" stroke-width="4.6" stroke-linecap="butt"/>
<line x1="604.6" y1="3543.6" x2="593.8" y2="3556.9" stroke="#6cd078" stroke-width="4.6" stroke-linecap="butt"/>
<polygon points="1598.0,3004.3 1616.5,3044.3 1579.5,3044.3" fill="#00ff00"/>
<polygon points="1294.5,3048.0 1313.0,3088.0 1276.0,3088.0" fill="#00ff00"/>
<polygon points="1050.6,3152.9 1069.1,3192.9 1032.1,3192.9" fill="#00ff00"/>
<polygon points="876.7,3266.8 895.2,3306.8 858.2,3306.8" fill="#00ff00"/>
<polygon points="750.8,3365.7 769.3,3405.7 732.3,3405.7" fill="#00ff00"/>
<polygon points="673.5,3445.0 692.0,3485.0 655.0,3485.0" fill="#00ff00"/>
<polygon points="618.5,3502.5 637.0,3542.5 600.0,3542.5" fill="#00ff00"/>
<polygon points="579.9,3550.0 598.4,3590.0 561.4,3590.0" fill="#00ff00"/>
<polygon points="556.0,3573.0 574.5,3613.0 537.5,3613.0" fill="#00ff00"/>
<polygon points="543.0,3586.0 561.5,3626.0 524.5,3626.0" fill="#00ff00"/>
<polygon points="533.0,3598.0 551.5,3638.0 514.5,3638.0" fill="#00ff00"/>
<polygon points="524.0,3611.0 542.5,3651.0 505.5,3651.0" fill="#00ff00"/>
<polygon points="516.0,3624.0 534.5,3664.0 497.5,3664.0" fill="#00ff00"/>
<polygon points="509.0,3637.0 527.5,3677.0 490.5,3677.0" fill="#00ff00"/>
<polygon points="503.0,3649.0 521.5,3689.0 484.5,3689.0" fill="#00ff00"/>
<polygon points="498.0,3659.0 516.5,3699.0 479.5,3699.0" fill="#00ff00"/>
<polygon points="494.0,3668.0 512.5,3708.0 475.5,3708.0" fill="#00ff00"/>
<polygon points="491.0,3674.0 509.5,3714.0 472.5,3714.0" fill="#00ff00"/>
</g>
</svg>
</body>
</html>
